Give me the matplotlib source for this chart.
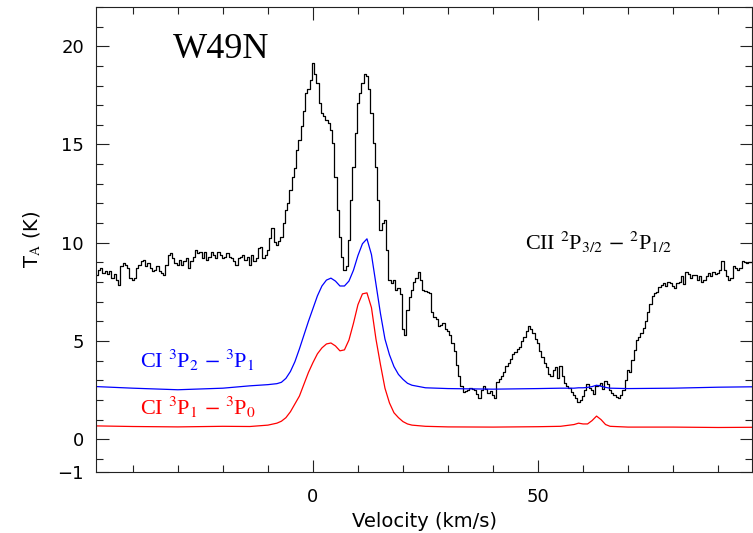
import numpy as np
import matplotlib
matplotlib.use("Agg")
import matplotlib.pyplot as plt
from matplotlib.ticker import MultipleLocator, FixedLocator

# ---- CII 2P3/2 - 2P1/2 spectrum (0.5 km/s channels, -48 .. 97.5 km/s) ----
cii_vel = np.arange(-48, 97.6, 0.5)
cii_ta = [
    8.37, 8.6, 8.7, 8.45, 8.55, 8.4, 8.55, 8.2, 8.4, 8.1,        # -48
    7.86, 8.8, 8.95, 8.88, 8.7, 8.2, 8.1, 8.2, 8.7, 8.88,        # -43
    9.05, 9.13, 8.8, 8.95, 8.7, 8.55, 8.6, 8.8, 8.55, 8.45,      # -38
    8.37, 8.88, 9.38, 9.46, 9.21, 8.95, 8.88, 9.13, 8.88, 9.05,  # -33
    9.21, 8.71, 9.05, 9.3, 9.63, 9.46, 9.55, 9.21, 9.55, 9.13,   # -28
    9.3, 9.55, 9.38, 9.21, 9.55, 9.38, 9.21, 9.3, 9.46, 9.3,     # -23
    9.21, 9.05, 8.88, 9.21, 9.3, 9.38, 9.13, 9.3, 8.88, 9.38,    # -18
    9.05, 9.21, 9.72, 9.8, 9.21, 9.38, 9.63, 10.23, 10.74, 10.06,  # -13
    9.9, 10.1, 10.3, 11.0, 11.67, 12.0, 12.7, 13.37, 13.8, 14.73,  # -8
    15.24, 15.92, 16.68, 17.6, 17.8, 18.3, 19.14, 18.6, 18.13, 17.1,  # -3
    16.6, 16.43, 16.26, 16.1, 15.75, 15.07, 13.37, 11.67, 10.3, 9.3,  # 2
    8.62, 8.8, 10.15, 12.2, 13.88, 15.58, 17.1, 17.6, 18.13, 18.6,   # 7
    18.46, 17.8, 16.6, 15.07, 13.88, 12.2, 10.66, 11.0, 11.17, 9.64,  # 12
    8.12, 7.95, 8.12, 7.6, 7.7, 7.4, 5.6, 5.3, 6.6, 7.25,        # 17
    7.6, 8.0, 8.2, 8.5, 8.1, 7.6, 7.55, 7.5, 7.45, 6.5,          # 22
    6.2, 6.1, 5.75, 5.8, 5.9, 5.6, 5.5, 5.3, 4.9, 4.5,           # 27
    3.8, 3.2, 2.7, 2.4, 2.45, 2.5, 2.6, 2.55, 2.5, 2.3,          # 32
    2.1, 2.5, 2.7, 2.55, 2.35, 2.45, 2.25, 2.1, 2.9, 3.05,       # 37
    3.2, 3.4, 3.75, 3.9, 4.1, 4.35, 4.45, 4.6, 4.7, 5.0,         # 42
    5.2, 5.5, 5.75, 5.6, 5.4, 5.1, 4.9, 4.5, 4.2, 3.9,           # 47
    3.7, 3.3, 3.2, 3.5, 3.7, 3.1, 3.75, 3.2, 2.85, 2.7,          # 52
    2.6, 2.4, 2.25, 2.1, 1.92, 2.0, 2.2, 2.5, 2.8, 2.6,          # 57
    2.5, 2.3, 2.7, 2.75, 2.85, 2.55, 2.95, 2.8, 2.5, 2.35,       # 62
    2.25, 2.15, 2.1, 2.25, 2.5, 3.0, 3.5, 3.4, 4.05, 4.55,       # 67
    5.05, 5.2, 5.4, 5.65, 6.0, 6.5, 6.9, 7.3, 7.45, 7.5,         # 72
    7.75, 7.85, 7.95, 7.8, 8.0, 7.95, 7.8, 7.7, 7.95, 8.0,       # 77
    8.3, 7.9, 8.5, 8.4, 8.2, 8.35, 8.35, 8.1, 8.3, 8.0,          # 82
    8.1, 8.3, 8.45, 8.3, 8.5, 8.4, 8.45, 8.6, 9.05, 8.6,         # 87
    8.3, 8.1, 8.2, 8.8, 8.7, 8.6, 8.7, 9.05, 9.0, 8.95,          # 92
    9.0, 9.0,                                                    # 97
]

# ---- CI spectra ----
ci_vel = [-48, -40, -30, -20, -14, -10, -8, -7, -6, -5, -4, -3, -2, -1, 0,
          1, 2, 3, 4, 5, 6, 7, 8, 9, 10, 11, 12, 13, 14, 15, 16, 17, 18,
          19, 20, 21, 22, 25, 30, 40, 50, 55, 58, 59, 60, 61, 62, 63, 64,
          65, 66, 70, 80, 90, 97.5]
ci21_ta = [2.68, 2.6, 2.52, 2.6, 2.72, 2.78, 2.83, 2.9, 3.1, 3.45, 3.95, 4.6,
           5.3, 6.0, 6.65, 7.3, 7.8, 8.1, 8.2, 8.05, 7.8, 7.8, 8.05, 8.6,
           9.35, 9.95, 10.2, 9.4, 7.9, 6.4, 5.1, 4.3, 3.7, 3.3, 3.05, 2.85,
           2.75, 2.62, 2.58, 2.55, 2.58, 2.6, 2.6, 2.62, 2.62, 2.64, 2.68,
           2.75, 2.7, 2.64, 2.6, 2.58, 2.6, 2.65, 2.67]
ci10_ta = [0.68, 0.65, 0.63, 0.66, 0.65, 0.72, 0.82, 0.92, 1.1, 1.4, 1.8, 2.2,
           2.8, 3.4, 3.9, 4.35, 4.65, 4.85, 4.9, 4.75, 4.5, 4.55, 5.05, 5.9,
           6.85, 7.4, 7.45, 6.7, 5.1, 3.8, 2.6, 1.85, 1.35, 1.1, 0.9, 0.78,
           0.72, 0.66, 0.63, 0.62, 0.64, 0.66, 0.75, 0.82, 0.78, 0.78, 0.95,
           1.18, 1.0, 0.75, 0.66, 0.62, 0.62, 0.6, 0.61]

y_ticks = [0, 5, 10, 15, 20]
y_bottom = -1.65

plt.rcParams["mathtext.fontset"] = "stix"

fig = plt.figure(figsize=(7.53, 5.33), dpi=100)
ax = fig.add_axes([0.128, 0.115, 0.8705, 0.872])

ax.plot(cii_vel, cii_ta, drawstyle="steps-mid", color="black", lw=0.9)
ax.plot(ci_vel, ci21_ta, color="#0000ff", lw=0.9)
ax.plot(ci_vel, ci10_ta, color="#ff0000", lw=0.9)

ax.set_xlim(-48.1, 97.5)
ax.set_ylim(y_bottom, 22.0)

ax.xaxis.set_major_locator(FixedLocator([0, 50]))
ax.xaxis.set_minor_locator(MultipleLocator(10))
ax.yaxis.set_major_locator(FixedLocator([y_bottom] + y_ticks))
ax.set_yticklabels(["\u22121"] + [str(t) for t in y_ticks])
ax.yaxis.set_minor_locator(MultipleLocator(1))

ax.tick_params(which="both", direction="in", top=True, right=True,
               color="#222222", width=0.8)
ax.tick_params(which="major", length=9)
ax.tick_params(which="minor", length=5)
ax.tick_params(axis="x", which="major", labelsize=13, pad=12)
ax.tick_params(axis="y", which="major", labelsize=13, pad=9)
for sp in ax.spines.values():
    sp.set_linewidth(0.8)
    sp.set_color("#222222")

ax.set_xlabel("Velocity (km/s)", fontsize=14, labelpad=4)
ax.set_ylabel(r"T$_{\rm A}$ (K)", fontsize=14, labelpad=10)

serif = "Liberation Serif"
ax.text(-31.2, 19.4, "W49N", fontsize=26, family=serif, va="baseline")
ax.text(47.0, 9.64, r"CII $^{2}$P$_{3/2}$ $-$ $^{2}$P$_{1/2}$",
        fontsize=16, family=serif, va="baseline", color="black")
ax.text(-38.5, 3.63, r"CI $^{3}$P$_{2}$ $-$ $^{3}$P$_{1}$",
        fontsize=16, family=serif, va="baseline", color="#0000ff")
ax.text(-38.5, 1.24, r"CI $^{3}$P$_{1}$ $-$ $^{3}$P$_{0}$",
        fontsize=16, family=serif, va="baseline", color="#ff0000")

fig.savefig("out.png", dpi=100)
